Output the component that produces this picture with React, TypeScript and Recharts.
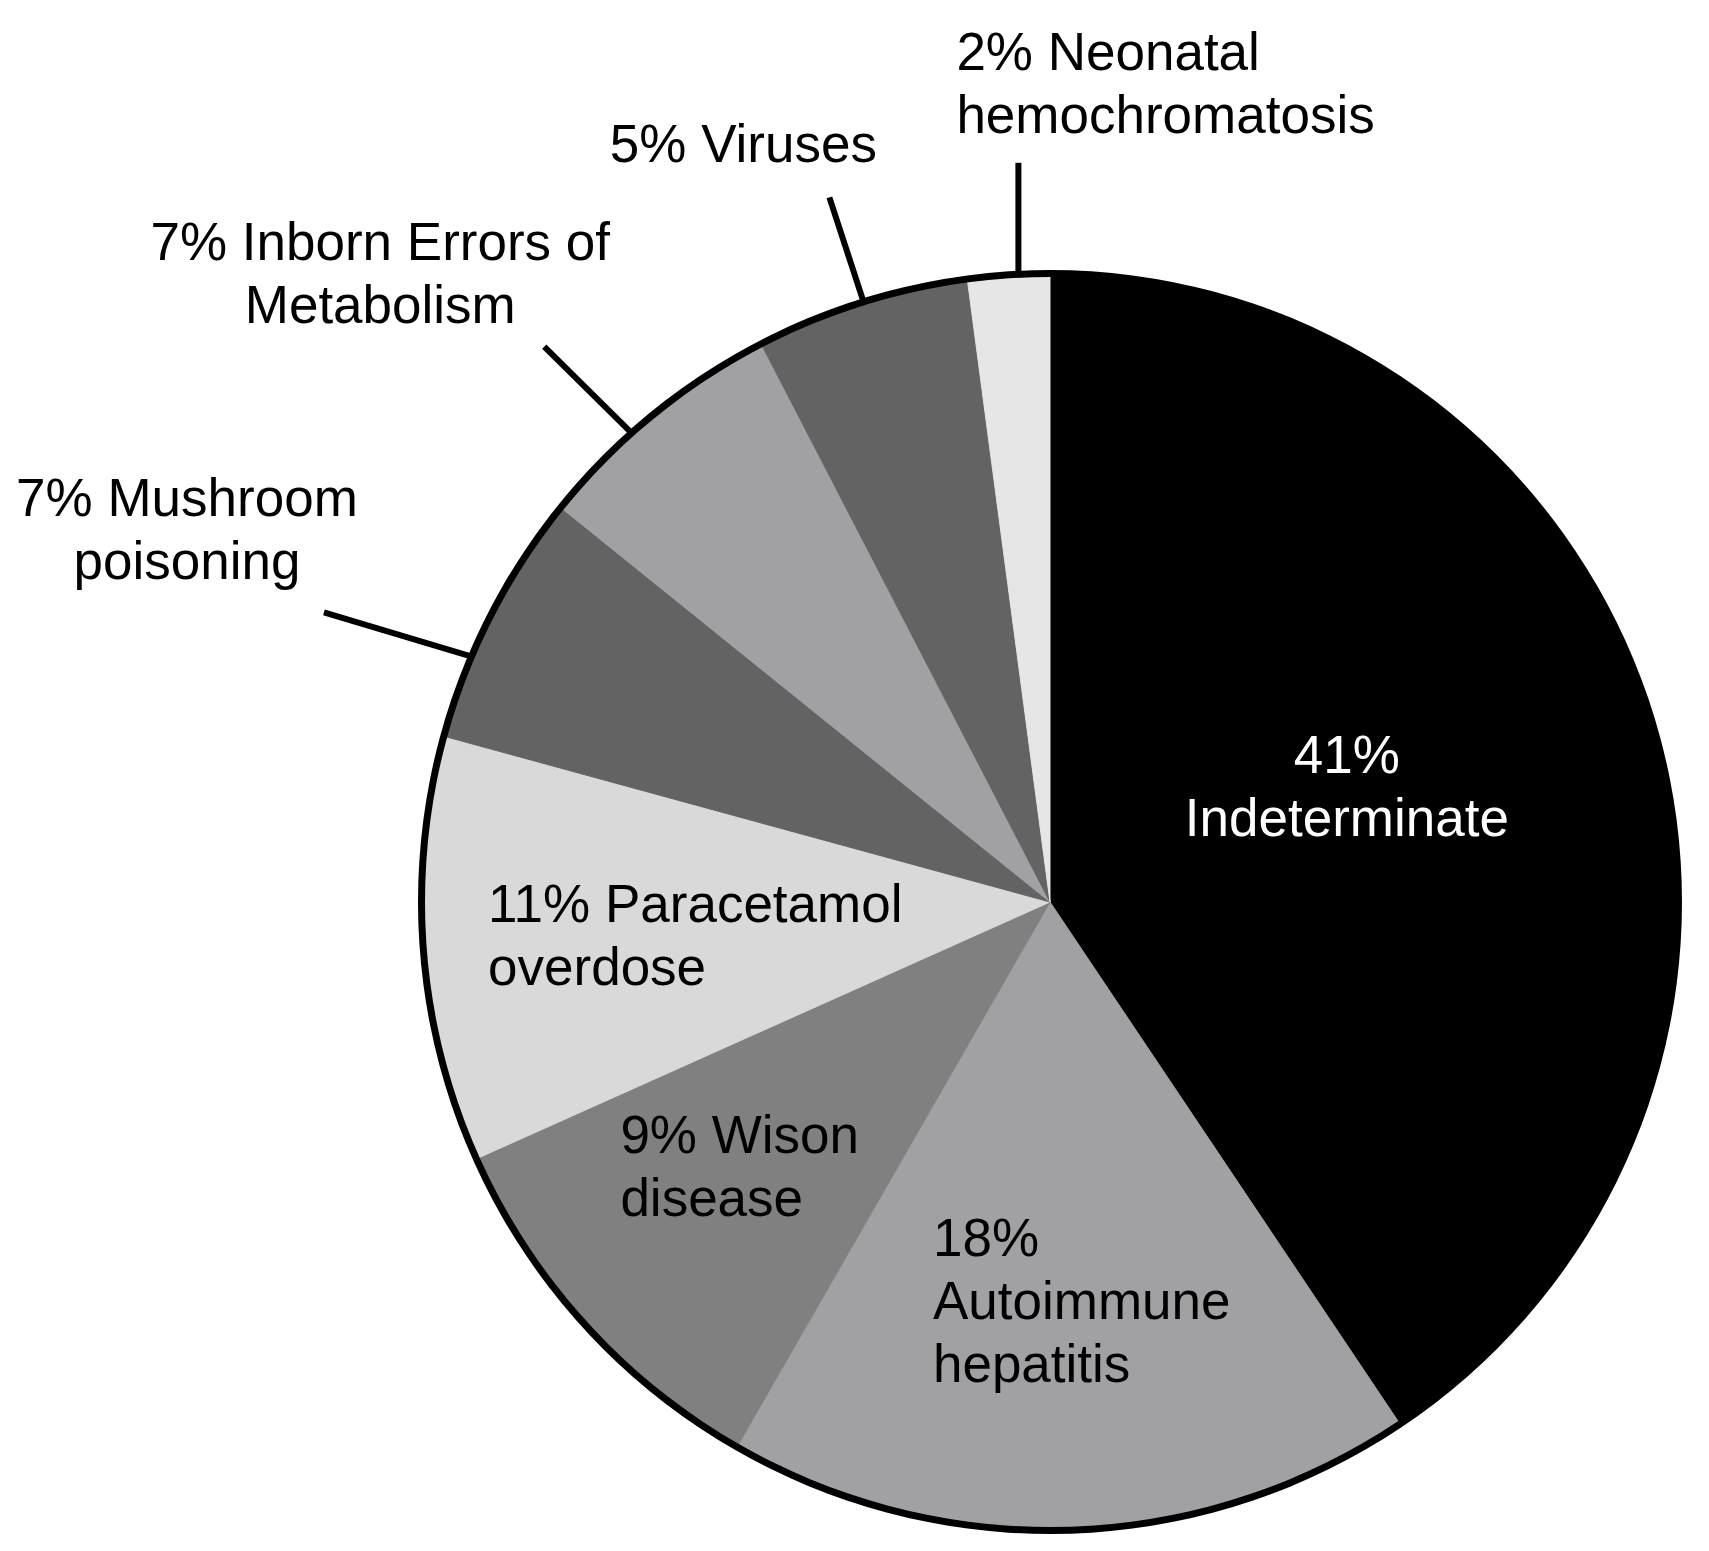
import React from "react";
import { PieChart, Pie, Cell } from "recharts";

// causes of acute liver failure, clockwise from 12 o'clock
const causes = [
  "Indeterminate",
  "Autoimmune hepatitis",
  "Wison disease",
  "Paracetamol overdose",
  "Mushroom poisoning",
  "Inborn Errors of Metabolism",
  "Viruses",
  "Neonatal hemochromatosis",
];
// slice sizes as drawn in the figure (%)
const shares = [40.6, 17.7, 10.0, 10.95, 6.55, 6.6, 5.5, 2.1];
// percentages printed in the labels
const labelPercents = [41, 18, 9, 11, 7, 7, 5, 2];
const sliceColors = ["#000000", "#a1a1a4", "#808080", "#d9d9d9", "#636363", "#a1a1a4", "#636363", "#e6e6e6"];

const chartData = causes.map((name, i) => ({ name, value: shares[i], pct: labelPercents[i] }));
const outline = [{ name: "outline", value: 1 }];

const FONT = '"Liberation Sans", Arial, Helvetica, sans-serif';
const FONT_SIZE = 53;
const LINE_H = 63;
const RADIAN = Math.PI / 180;

type Layout = {
  words: number[];
  anchor: "start" | "middle";
  color?: string;
  inside?: { rf: number; dx: number; dy: number };
  leader?: { shift: number; lx: number; ly: number; dx: number; dy: number };
};

const layouts: Record<string, Layout> = {
  Indeterminate: { words: [1, 1], anchor: "middle", color: "#ffffff", inside: { rf: 0.5, dx: -4, dy: -37 } },
  "Autoimmune hepatitis": { words: [1, 1, 1], anchor: "start", inside: { rf: 0.55, dx: -129, dy: 8 } },
  "Wison disease": { words: [2, 1], anchor: "start", inside: { rf: 0.55, dx: -173, dy: 19 } },
  "Paracetamol overdose": { words: [2, 1], anchor: "start", inside: { rf: 0.55, dx: -217, dy: -7 } },
  "Mushroom poisoning": { words: [2, 1], anchor: "middle", leader: { shift: 4.1, lx: -147, ly: -44, dx: -137, dy: -96 } },
  "Inborn Errors of Metabolism": { words: [4, 1], anchor: "middle", leader: { shift: 2.5, lx: -87, ly: -86, dx: -164, dy: -87 } },
  Viruses: { words: [2], anchor: "middle", leader: { shift: -0.2, lx: -34, ly: -104, dx: -86, dy: -35 } },
  "Neonatal hemochromatosis": { words: [2, 1], anchor: "start", leader: { shift: -0.9, lx: 0, ly: -111, dx: -62, dy: -93 } },
};

const polar = (cx: number, cy: number, r: number, angle: number) => ({
  x: cx + r * Math.cos(-angle * RADIAN),
  y: cy + r * Math.sin(-angle * RADIAN),
});

function renderLabel(props: any) {
  const { cx, cy, midAngle, outerRadius, name, payload, index } = props;
  const cfg = layouts[name];
  if (!cfg) return null;

  const pct = payload?.pct ?? props.pct;
  const words = `${pct}% ${name}`.split(" ");
  const lines: string[] = [];
  let k = 0;
  cfg.words.forEach((n) => {
    lines.push(words.slice(k, k + n).join(" "));
    k += n;
  });

  let tx = 0;
  let ty = 0;
  let leader: React.ReactNode = null;
  if (cfg.inside) {
    const p = polar(cx, cy, outerRadius * cfg.inside.rf, midAngle);
    tx = p.x + cfg.inside.dx;
    ty = p.y + cfg.inside.dy;
  } else if (cfg.leader) {
    const s = polar(cx, cy, outerRadius, midAngle + cfg.leader.shift);
    const ex = s.x + cfg.leader.lx;
    const ey = s.y + cfg.leader.ly;
    leader = <line x1={s.x} y1={s.y} x2={ex} y2={ey} stroke="#000" strokeWidth={6} />;
    tx = ex + cfg.leader.dx;
    ty = ey + cfg.leader.dy;
  }

  return (
    <g key={`label-${index}`}>
      {leader}
      <text
        x={tx}
        y={ty}
        textAnchor={cfg.anchor}
        fill={cfg.color || "#000"}
        fontSize={FONT_SIZE}
        fontFamily={FONT}
        stroke="none"
      >
        {lines.map((t, i) => (
          <tspan key={i} x={tx} y={ty + i * LINE_H}>
            {t}
          </tspan>
        ))}
      </text>
    </g>
  );
}

export default function App() {
  return (
    <div style={{ margin: -8, width: 1709, height: 1551, background: "#fff" }}>
      <PieChart width={1709} height={1551} margin={{ top: 0, right: 0, bottom: 0, left: 0 }}>
        <Pie
          data={chartData}
          dataKey="value"
          nameKey="name"
          cx={1050}
          cy={902}
          outerRadius={629}
          startAngle={90}
          endAngle={-270}
          label={renderLabel}
          labelLine={false}
          isAnimationActive={false}
        >
          {chartData.map((d, i) => (
            <Cell key={d.name} fill={sliceColors[i]} stroke={sliceColors[i]} strokeWidth={1} />
          ))}
        </Pie>
        <Pie
          data={outline}
          dataKey="value"
          cx={1050}
          cy={902}
          innerRadius={625}
          outerRadius={632}
          startAngle={90}
          endAngle={-270}
          fill="#000"
          stroke="none"
          isAnimationActive={false}
        />
      </PieChart>
    </div>
  );
}
